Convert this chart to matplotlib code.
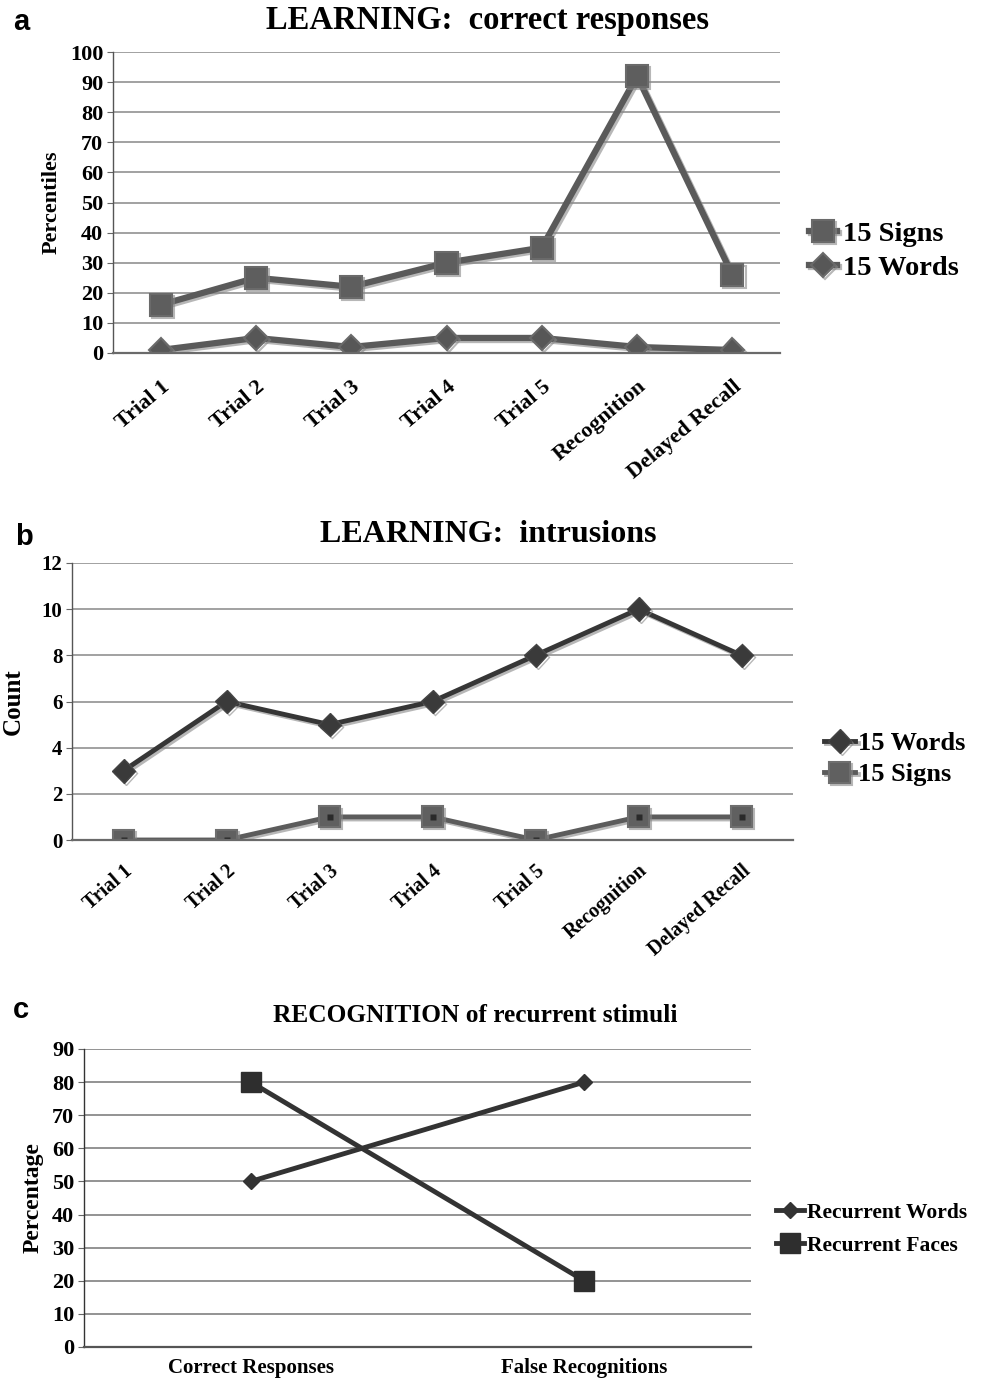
import matplotlib
matplotlib.use("Agg")
import matplotlib.pyplot as plt
import matplotlib.patheffects as pe

# data
stages = ["Trial 1", "Trial 2", "Trial 3", "Trial 4", "Trial 5", "Recognition", "Delayed Recall"]
correct_signs = [16, 25, 22, 30, 35, 92, 26]
correct_words = [1, 5, 2, 5, 5, 2, 1]
intrusion_words = [3, 6, 5, 6, 8, 10, 8]
intrusion_signs = [0, 0, 1, 1, 0, 1, 1]
recog_cats = ["Correct Responses", "False Recognitions"]
recurrent_words = [50, 80]
recurrent_faces = [80, 20]

plt.rcParams["font.family"] = ["Liberation Serif", "DejaVu Serif"]
plt.rcParams["font.weight"] = "bold"

W, H = 981, 1380
fig = plt.figure(figsize=(W / 100, H / 100), dpi=100)


def box(left, top, right, bottom):
    return [left / W, 1 - bottom / H, (right - left) / W, (bottom - top) / H]


def style_axes(ax, ymax, step, tsize, grid_c="#9a9a9a"):
    ax.set_ylim(0, ymax)
    ax.set_yticks(range(0, ymax + 1, step))
    ax.yaxis.grid(True, color=grid_c, lw=1.3)
    ax.set_axisbelow(True)
    for s in ["top", "right"]:
        ax.spines[s].set_visible(False)
    ax.spines["bottom"].set_color("#6a6a6a")
    ax.spines["bottom"].set_linewidth(1.6)
    ax.spines["left"].set_color("#555555")
    ax.spines["left"].set_linewidth(1.0)
    ax.tick_params(axis="y", length=4, color="#666666", labelsize=tsize, pad=3)
    ax.tick_params(axis="x", length=0)
    for lab in ax.get_yticklabels():
        lab.set_fontweight("bold")


shadow = [pe.SimpleLineShadow(offset=(1.5, -1.5), shadow_color="#888888", alpha=0.6), pe.Normal()]

# ---- panel a
ax1 = fig.add_axes(box(113, 52, 780, 353))
x = list(range(len(stages)))
ax1.plot(x, correct_signs, color="#5a5a5a", lw=4.5, marker="s", ms=16,
         mfc="#5e5e5e", mec="#6a6a6a", mew=1.5, label="15 Signs", path_effects=shadow)
ax1.plot(x, correct_words, color="#5a5a5a", lw=4.5, marker="D", ms=12,
         mfc="#575757", mec="#6a6a6a", mew=1.5, label="15 Words", path_effects=shadow)
ax1.set_xlim(-0.5, len(stages) - 0.5)
style_axes(ax1, 100, 10, 16)
ax1.set_xticks(x)
ax1.set_xticklabels(stages, rotation=40, ha="right", rotation_mode="anchor",
                    fontsize=16, fontweight="bold")
ax1.tick_params(axis="x", pad=17)
ax1.set_ylabel("Percentiles", fontsize=16, fontweight="bold", labelpad=6)
fig.text(488 / W, 1 - 21 / H, "LEARNING:  correct responses", fontsize=23.5,
         fontweight="bold", ha="center", va="center")
fig.text(13 / W, 1 - 22 / H, "a", family="Liberation Sans", fontsize=21,
         fontweight="bold", va="center", ha="left")
fig.legend(handles=ax1.get_lines(), loc="center left",
           bbox_to_anchor=(783 / W, 1 - 251 / H), frameon=False,
           prop={"size": 20.5, "weight": "bold"}, handlelength=1.0,
           handletextpad=0.2, labelspacing=0.3)

# ---- panel b
ax2 = fig.add_axes(box(72, 563, 793, 840))
ax2.plot(x, intrusion_words, color="#363636", lw=3.5, marker="D", ms=12,
         mfc="#3a3a3a", mec="#444444", label="15 Words", path_effects=shadow)
ax2.plot(x, intrusion_signs, color="#5c5c5c", lw=3.5, marker="s", ms=15,
         mfc="#606060", mec="#6e6e6e", mew=1.5, label="15 Signs", path_effects=shadow)
ax2.plot(x, intrusion_signs, ls="none", marker="s", ms=5, mfc="#2a2a2a", mec="none")
ax2.set_xlim(-0.5, len(stages) - 0.5)
style_axes(ax2, 12, 2, 15)
ax2.set_xticks(x)
ax2.set_xticklabels(stages, rotation=41, ha="right", rotation_mode="anchor",
                    fontsize=14.5, fontweight="bold")
ax2.tick_params(axis="x", pad=15)
ax2.set_ylabel("Count", fontsize=18, fontweight="bold", labelpad=12)
fig.text(488 / W, 1 - 535 / H, "LEARNING:  intrusions", fontsize=23,
         fontweight="bold", ha="center", va="center")
fig.text(15 / W, 1 - 537 / H, "b", family="Liberation Sans", fontsize=21,
         fontweight="bold", va="center", ha="left")
fig.legend(handles=ax2.get_lines()[:2], loc="center left",
           bbox_to_anchor=(800 / W, 1 - 759 / H), frameon=False,
           prop={"size": 19, "weight": "bold"}, handlelength=1.2,
           handletextpad=0.1, labelspacing=0.3)

# ---- panel c
ax3 = fig.add_axes(box(84, 1049, 751, 1347))
xc = list(range(len(recog_cats)))
ax3.plot(xc, recurrent_words, color="#333333", lw=3.5, marker="D", ms=8,
         mfc="#333333", mec="#333333", label="Recurrent Words")
ax3.plot(xc, recurrent_faces, color="#333333", lw=3.5, marker="s", ms=14.5,
         mfc="#2e2e2e", mec="#2e2e2e", label="Recurrent Faces")
ax3.set_xlim(-0.5, len(recog_cats) - 0.5)
style_axes(ax3, 90, 10, 16, grid_c="#8a8a8a")
ax3.spines["bottom"].set_color("#555555")
ax3.spines["left"].set_color("#333333")
ax3.set_xticks(xc)
ax3.set_xticklabels(recog_cats, fontsize=15, fontweight="bold")
ax3.tick_params(axis="x", pad=8)
ax3.set_ylabel("Percentage", fontsize=17, fontweight="bold", labelpad=6)
fig.text(475 / W, 1 - 1016 / H, "RECOGNITION of recurrent stimuli", fontsize=18.3,
         fontweight="bold", ha="center", va="center")
fig.text(13 / W, 1 - 1010 / H, "c", family="Liberation Sans", fontsize=21,
         fontweight="bold", va="center", ha="left")
fig.legend(handles=ax3.get_lines(), loc="center left",
           bbox_to_anchor=(757 / W, 1 - 1229 / H), frameon=False,
           prop={"size": 15.5, "weight": "bold"}, handlelength=1.3,
           handletextpad=0.1, labelspacing=0.6)

fig.savefig("out.png", dpi=100)
